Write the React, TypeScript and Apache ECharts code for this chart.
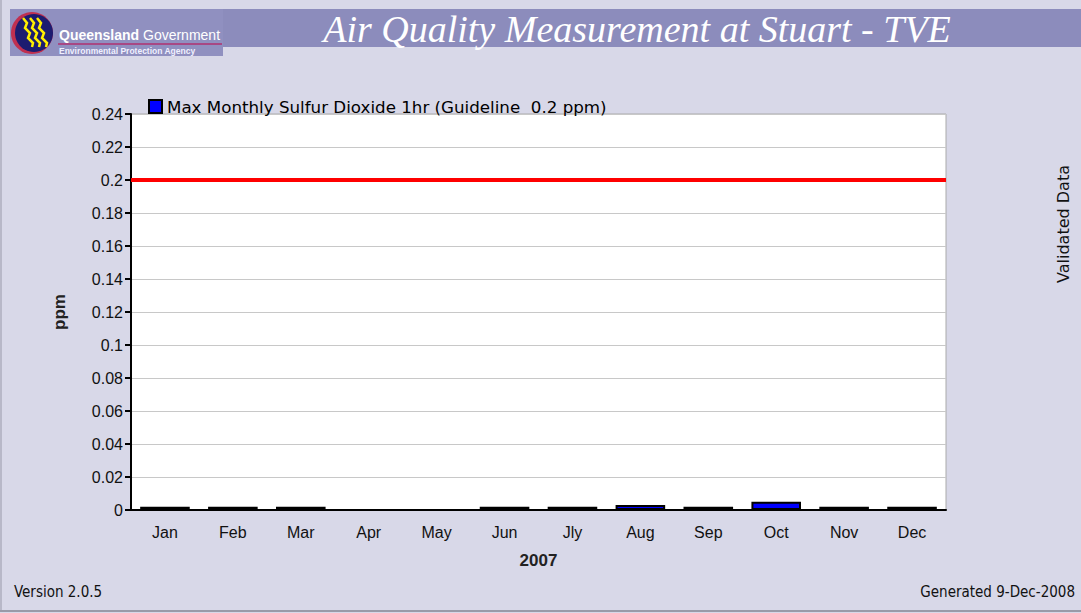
import React, { useEffect, useRef } from "react";
import * as echarts from "echarts";

const months = ["Jan", "Feb", "Mar", "Apr", "May", "Jun", "Jly", "Aug", "Sep", "Oct", "Nov", "Dec"];
const so2Max = [0.002, 0.002, 0.002, 0, 0, 0.002, 0.002, 0.003, 0.002, 0.005, 0.002, 0.002];
const guideline = 0.2;
const seriesName = "Max Monthly Sulfur Dioxide 1hr (Guideline  0.2 ppm)";
const titleText = "Air Quality Measurement at Stuart - TVE";
const yearLabel = "2007";
const yName = "ppm";
const sideNote = "Validated Data";
const versionText = "Version 2.0.5";
const generatedText = "Generated 9-Dec-2008";

export default function App() {
  const ref = useRef<HTMLDivElement>(null);
  useEffect(() => {
    if (!ref.current) return;
    const chart = echarts.init(ref.current, null, { renderer: "svg" });
    const font = "Liberation Sans";
    const wave = (x0: number) => [
      [x0, 18], [x0 + 4, 23], [x0 + 2, 28], [x0 + 7, 33], [x0 + 5, 38], [x0 + 10, 43], [x0 + 9, 47],
    ];
    chart.setOption({
      animation: false,
      backgroundColor: "#d8d8e8",
      textStyle: { fontFamily: font },
      legend: {
        show: true,
        left: 143,
        top: 93,
        itemWidth: 13,
        itemHeight: 13,
        itemGap: 6,
        icon: "rect",
        textStyle: { fontSize: 16.7, color: "#000", fontFamily: "DejaVu Sans" },
        data: [seriesName],
      },
      grid: {
        left: 131,
        right: 135,
        top: 114,
        bottom: 103,
        show: true,
        backgroundColor: "#ffffff",
        borderColor: "#aaaaaa",
        borderWidth: 1,
      },
      xAxis: {
        type: "category",
        data: months,
        boundaryGap: true,
        name: yearLabel,
        nameLocation: "middle",
        nameGap: 42,
        nameTextStyle: { fontSize: 17, fontWeight: "bold", color: "#222", fontFamily: font },
        axisLine: { lineStyle: { color: "#000", width: 2 } },
        axisTick: { alignWithLabel: true, length: 6, lineStyle: { color: "#000", width: 2 } },
        axisLabel: { fontSize: 16, color: "#111", margin: 14, fontFamily: font },
        splitLine: { show: false },
      },
      yAxis: {
        type: "value",
        min: 0,
        max: 0.24,
        interval: 0.02,
        name: yName,
        nameLocation: "middle",
        nameGap: 63,
        nameRotate: 90,
        nameTextStyle: { fontSize: 17, fontWeight: "bold", color: "#222", fontFamily: font },
        axisLine: { show: true, lineStyle: { color: "#000", width: 2 } },
        axisTick: { show: true, length: 6, lineStyle: { color: "#000", width: 2 } },
        axisLabel: { fontSize: 16, color: "#111", margin: 8, fontFamily: font },
        splitLine: { show: true, lineStyle: { color: "#c8c8c8", width: 1 } },
      },
      series: [
        {
          name: seriesName,
          type: "bar",
          data: so2Max,
          barWidth: "73%",
          itemStyle: { color: "#0000ff", borderColor: "#000", borderWidth: 2 },
          markLine: {
            silent: true,
            symbol: "none",
            label: { show: false },
            lineStyle: { color: "#ff0000", width: 4, type: "solid" },
            data: [{ yAxis: guideline }],
          },
        },
      ],
      graphic: [
        { type: "rect", shape: { x: 10, y: 9, width: 1071, height: 38 }, style: { fill: "#8c8cbc" }, silent: true },
        { type: "rect", shape: { x: 10, y: 9, width: 213, height: 47 }, style: { fill: "#9090c0" }, silent: true },
        { type: "line", shape: { x1: 1, y1: 0, x2: 1, y2: 611 }, style: { stroke: "#b8b8c8", lineWidth: 2 }, silent: true },
        { type: "circle", shape: { cx: 32, cy: 33, r: 21 }, style: { fill: "#c03050" }, silent: true },
        { type: "circle", shape: { cx: 34, cy: 33, r: 19 }, style: { fill: "#1c1c70" }, silent: true },
        { type: "polyline", shape: { points: wave(23) }, style: { stroke: "#ffee00", lineWidth: 2.5, fill: "none" }, silent: true },
        { type: "polyline", shape: { points: wave(30) }, style: { stroke: "#ffee00", lineWidth: 2.5, fill: "none" }, silent: true },
        { type: "polyline", shape: { points: wave(37) }, style: { stroke: "#ffee00", lineWidth: 2.5, fill: "none" }, silent: true },
        {
          type: "text",
          left: 59,
          top: 28,
          style: { text: "Queensland", fill: "#ffffff", font: "bold 14px 'Liberation Sans'" },
          silent: true,
        },
        {
          type: "text",
          left: 143,
          top: 28,
          style: { text: "Government", fill: "#ffffff", font: "14px 'Liberation Sans'" },
          silent: true,
        },
        { type: "line", shape: { x1: 58, y1: 44, x2: 222, y2: 44 }, style: { stroke: "#b03070", lineWidth: 1.5 }, silent: true },
        {
          type: "text",
          left: 59,
          top: 46,
          style: { text: "Environmental Protection Agency", fill: "#f0f0ff", font: "bold 8.5px 'Liberation Sans'" },
          silent: true,
        },
        {
          type: "text",
          x: 637,
          y: 29,
          style: {
            text: titleText,
            fill: "#ffffff",
            font: "italic 38px 'Liberation Serif'",
            align: "center",
            verticalAlign: "middle",
          },
          silent: true,
        },
        {
          type: "text",
          x: 1063,
          y: 224,
          rotation: Math.PI / 2,
          style: {
            text: sideNote,
            fill: "#111",
            font: "16px 'DejaVu Sans'",
            align: "center",
            verticalAlign: "middle",
          },
          silent: true,
        },
        {
          type: "text",
          left: 14,
          top: 584,
          style: { text: versionText, fill: "#111", font: "15px 'DejaVu Sans Condensed'" },
          silent: true,
        },
        {
          type: "text",
          right: 6,
          top: 584,
          style: { text: generatedText, fill: "#111", font: "15px 'DejaVu Sans Condensed'" },
          silent: true,
        },
        { type: "line", shape: { x1: 0, y1: 611, x2: 1081, y2: 611 }, style: { stroke: "#9a9aa8", lineWidth: 2 }, silent: true },
      ],
    });
    return () => chart.dispose();
  }, []);
  return <div ref={ref} style={{ position: "fixed", left: 0, top: 0, width: 1081, height: 613 }} />;
}
